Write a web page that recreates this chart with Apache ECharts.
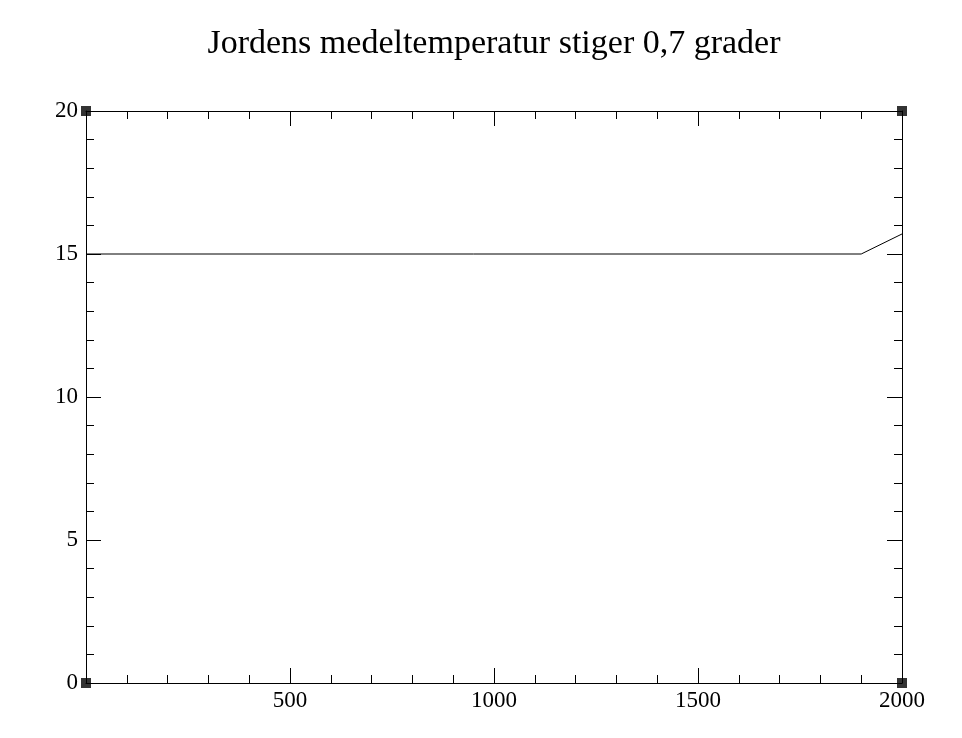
<!DOCTYPE html>
<html>
<head>
<meta charset="utf-8">
<script src="https://cdn.jsdelivr.net/npm/echarts@6/dist/echarts.min.js"></script>
<style>html,body{margin:0;padding:0;background:#fff;}#c{width:962px;height:738px;}</style>
</head>
<body>
<div id="c"></div>
<script>
const titleText = 'Jordens medeltemperatur stiger 0,7 grader';
const years = [0, 1900, 2000];
const temps = [15, 15, 15.7];
const cornerX = [0, 0, 2000, 2000];
const cornerY = [0, 20, 0, 20];
const xRange = [0, 2000];
const yRange = [0, 20];

const FONT = 'Liberation Serif';
const chart = echarts.init(document.getElementById('c'), null, {renderer: 'canvas'});

function xAxisCfg(pos, showLabels) {
  return {
    type: 'value', position: pos, min: xRange[0], max: xRange[1], interval: 500,
    axisLine: {show: true, onZero: false, lineStyle: {color: '#000', width: 1}},
    axisTick: {show: true, inside: true, length: 15, lineStyle: {color: '#000', width: 1}},
    minorTick: {show: true, splitNumber: 5, length: 8, lineStyle: {color: '#000', width: 1}},
    splitLine: {show: false},
    axisLabel: {show: showLabels, color: '#000', fontFamily: FONT, fontSize: 23, margin: 6,
      formatter: v => (v === 0 ? '' : String(v))}
  };
}
function yAxisCfg(pos, showLabels) {
  return {
    type: 'value', position: pos, min: yRange[0], max: yRange[1], interval: 5,
    axisLine: {show: true, onZero: false, lineStyle: {color: '#000', width: 1}},
    axisTick: {show: true, inside: true, length: 15, lineStyle: {color: '#000', width: 1}},
    minorTick: {show: true, splitNumber: 5, length: 8, lineStyle: {color: '#000', width: 1}},
    splitLine: {show: false},
    axisLabel: {show: showLabels, color: '#000', fontFamily: FONT, fontSize: 23, margin: 8}
  };
}

chart.setOption({
  animation: false,
  backgroundColor: '#fff',
  title: {
    text: titleText, left: 489, top: 22, textAlign: 'center',
    textStyle: {fontFamily: FONT, fontSize: 34, fontWeight: 'normal', color: '#000'}
  },
  grid: {left: 86, right: 60, top: 111, bottom: 55, containLabel: false},
  xAxis: [xAxisCfg('bottom', true), xAxisCfg('top', false)],
  yAxis: [yAxisCfg('left', true), yAxisCfg('right', false)],
  series: [
    {
      type: 'line', xAxisIndex: 0, yAxisIndex: 0,
      data: years.map((y, i) => [y, temps[i]]),
      showSymbol: false, symbol: 'none',
      lineStyle: {color: '#000', width: 1}
    },
    {
      type: 'scatter', xAxisIndex: 0, yAxisIndex: 0,
      data: cornerX.map((x, i) => [x, cornerY[i]]),
      symbol: 'rect', symbolSize: 10,
      itemStyle: {color: '#000'}, z: 10
    }
  ]
});
</script>
</body>
</html>
